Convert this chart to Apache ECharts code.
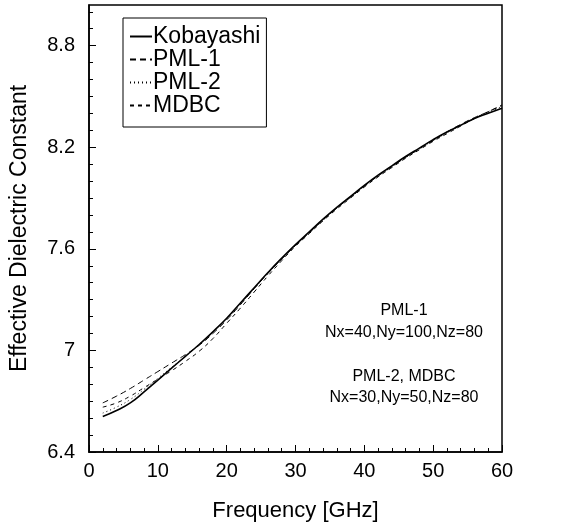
<!DOCTYPE html>
<html>
<head>
<meta charset="utf-8">
<script src="https://cdn.jsdelivr.net/npm/echarts@6/dist/echarts.min.js"></script>
<style>html,body{margin:0;padding:0;background:#fff}#c{width:562px;height:527px}</style>
</head>
<body>
<div id="c"></div>
<script>
const freq = [2,4,6,8,10,12,14,16,18,20,22,24,26,28,30,32,34,36,38,40,42,44,46,48,50,52,54,56,58,60];
const kobayashi = [6.61,6.645,6.69,6.755,6.825,6.895,6.965,7.035,7.11,7.19,7.28,7.37,7.46,7.545,7.625,7.70,7.775,7.845,7.91,7.975,8.035,8.09,8.145,8.195,8.245,8.29,8.33,8.37,8.40,8.43];
const pml1 = [6.69,6.73,6.775,6.825,6.875,6.925,6.975,7.03,7.10,7.18,7.27,7.365,7.455,7.54,7.62,7.695,7.77,7.84,7.905,7.97,8.03,8.085,8.14,8.19,8.24,8.29,8.335,8.375,8.41,8.45];
const pml2 = [6.63,6.665,6.71,6.77,6.835,6.90,6.965,7.035,7.11,7.185,7.275,7.365,7.455,7.54,7.62,7.695,7.77,7.84,7.905,7.97,8.03,8.085,8.14,8.19,8.24,8.285,8.33,8.37,8.405,8.44];
const mdbc = [6.665,6.69,6.73,6.78,6.83,6.88,6.935,6.995,7.07,7.16,7.25,7.345,7.44,7.53,7.615,7.69,7.765,7.835,7.90,7.965,8.025,8.08,8.135,8.185,8.235,8.28,8.325,8.37,8.41,8.445];
const yMajor = [6.4,7,7.6,8.2,8.8];
const yMinor = [6.5,6.6,6.7,6.8,6.9,7.1,7.2,7.3,7.4,7.5,7.7,7.8,7.9,8.0,8.1,8.3,8.4,8.5,8.6,8.7,8.9,9.0];
const notes = ["PML-1","Nx=40,Ny=100,Nz=80","PML-2, MDBC","Nx=30,Ny=50,Nz=80"];

const FONT = '"Liberation Sans", Arial, sans-serif';
const pair = (ys) => freq.map((f,i)=>[f, ys[i]]);
const mk = (name, ys, type, w) => ({
  name, type:'line', data: pair(ys), showSymbol:false, symbol:'none', smooth:true,
  lineStyle:{color:'#000', width:w, type}, itemStyle:{color:'#000'}
});

const chart = echarts.init(document.getElementById('c'));
chart.setOption({
  animation:false,
  backgroundColor:'#fff',
  grid:{left:89, right:60, top:5, bottom:75, show:true, borderColor:'#000', borderWidth:1.5, outerBoundsMode:'none', containLabel:false},
  legend:{
    orient:'vertical', left:123, top:18, padding:[7,6,10,6], itemGap:0,
    itemWidth:22, itemHeight:12, borderColor:'#000', borderWidth:1,
    itemStyle:{opacity:0},
    textStyle:{fontFamily:FONT, fontSize:23, lineHeight:22.5, color:'#000', padding:[0,0,0,-4]},
    data:['Kobayashi','PML-1','PML-2','MDBC']
  },
  xAxis:{
    type:'value', min:0, max:60, interval:10,
    name:'Frequency [GHz]', nameLocation:'middle', nameGap:48,
    nameTextStyle:{fontFamily:FONT, fontSize:22, color:'#000'},
    axisLine:{lineStyle:{color:'#000', width:1.5}},
    axisTick:{inside:true, length:7, lineStyle:{color:'#000'}},
    minorTick:{show:true, splitNumber:5, length:4, lineStyle:{color:'#000'}},
    splitLine:{show:false},
    axisLabel:{fontFamily:FONT, fontSize:20, color:'#000', margin:9}
  },
  yAxis:[{
    type:'value', min:6.4, max:9.04,
    name:'Effective Dielectric Constant', nameLocation:'middle', nameGap:58,
    nameTextStyle:{fontFamily:FONT, fontSize:23, color:'#000'},
    axisLine:{lineStyle:{color:'#000', width:1.5}},
    axisTick:{inside:true, length:7, customValues:yMajor, lineStyle:{color:'#000'}},
    splitLine:{show:false},
    axisLabel:{fontFamily:FONT, fontSize:20, color:'#000', margin:14, customValues:yMajor, formatter:(v)=>String(+v.toFixed(1))}
  },{
    type:'value', min:6.4, max:9.04, position:'left',
    axisLine:{show:false},
    axisTick:{inside:true, length:4, customValues:yMinor, lineStyle:{color:'#000'}},
    axisLabel:{show:false}, splitLine:{show:false}
  }],
  graphic: notes.map((t,i)=>({
    type:'text', x:404, y:[311,333,377,398][i],
    style:{text:t, fontFamily:FONT, fontSize:16, fill:'#000', textAlign:'center', textVerticalAlign:'middle'}
  })),
  series:[
    mk('Kobayashi', kobayashi, 'solid', 1.6),
    mk('PML-1', pml1, [6,4], 1),
    mk('PML-2', pml2, [1,3], 1),
    mk('MDBC', mdbc, [4,4], 1)
  ]
});
</script>
</body>
</html>
